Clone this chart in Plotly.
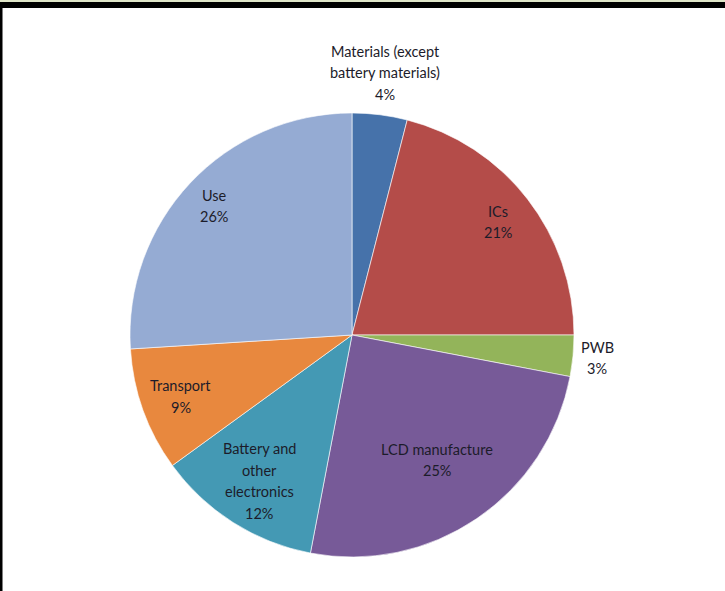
import math
import plotly.graph_objects as go

labels = ["Materials (except battery materials)", "ICs", "PWB", "LCD manufacture",
          "Battery and other electronics", "Transport", "Use"]
label_lines = [["Materials (except", "battery materials)"], ["ICs"], ["PWB"], ["LCD manufacture"],
               ["Battery and", "other", "electronics"], ["Transport"], ["Use"]]
values = [4, 21, 3, 25, 12, 9, 26]

colors = ["#4672AA", "#B44C49", "#93B45A", "#775A98", "#4499B4", "#E8883E", "#95ABD3"]
label_radius = [1.19, 0.83, 1.11, 0.68, 0.78, 0.82, 0.85]

W, H = 725, 591
cx, cy, R = 352, 335, 222
LINE_H = 21.5

fig = go.Figure(go.Pie(
    labels=labels, values=values, sort=False, direction="clockwise", rotation=0,
    marker=dict(colors=colors, line=dict(color="rgba(255,255,255,0.6)", width=1)),
    textinfo="none", hoverinfo="label+percent", showlegend=False,
    domain=dict(x=[(cx - R) / W, (cx + R) / W], y=[(H - cy - R) / H, (H - cy + R) / H]),
))

total = sum(values)
cum = 0
annotations = []
for lines, v, rf in zip(label_lines, values, label_radius):
    mid = (cum + v / 2) / total * 2 * math.pi
    cum += v
    px = cx + rf * R * math.sin(mid)
    py = cy - rf * R * math.cos(mid)
    all_lines = lines + [f"{round(v / total * 100)}%"]
    n = len(all_lines)
    for i, line in enumerate(all_lines):
        ly = py + (i - (n - 1) / 2) * LINE_H
        annotations.append(dict(
            x=px / W, y=1 - ly / H, xref="paper", yref="paper", showarrow=False,
            text=line, align="center",
            font=dict(family="Lato, Open Sans, sans-serif", size=14.5, color="#1c1c2a"),
            xanchor="center", yanchor="middle",
        ))

shapes = [
    dict(type="rect", xref="paper", yref="paper", x0=0, x1=1, y0=1 - 2 / H, y1=1,
         fillcolor="#dfe6c8", line=dict(width=0), layer="above"),
    dict(type="rect", xref="paper", yref="paper", x0=0, x1=1, y0=1 - 8 / H, y1=1 - 2 / H,
         fillcolor="black", line=dict(width=0), layer="above"),
    dict(type="rect", xref="paper", yref="paper", x0=0, x1=2.5 / W, y0=0, y1=1 - 2 / H,
         fillcolor="black", line=dict(width=0), layer="above"),
]

fig.update_layout(
    width=W, height=H, margin=dict(l=0, r=0, t=0, b=0),
    paper_bgcolor="white", plot_bgcolor="white",
    annotations=annotations, shapes=shapes,
)

fig.write_html("out.html", config={"displayModeBar": False},
               post_script="document.body.style.margin='0';document.body.style.overflow='hidden';")
